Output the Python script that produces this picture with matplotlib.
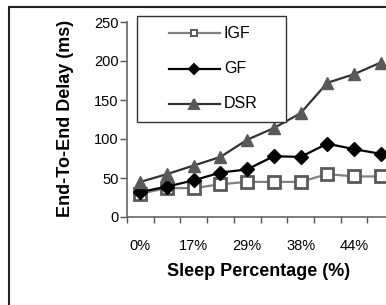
import numpy as np
import matplotlib
matplotlib.use('Agg')
import matplotlib.pyplot as plt
from matplotlib.lines import Line2D
from matplotlib.patches import Rectangle

# data
x_labels = ['0%', '', '17%', '', '29%', '', '38%', '', '44%', '']
igf = [30, 37, 37, 42, 45, 45, 45, 55, 52, 52]
gf = [32, 39, 47, 57, 61, 78, 77, 94, 87, 81]
dsr = [45, 55, 66, 77, 99, 114, 133, 172, 183, 198]
names = ['IGF', 'GF', 'DSR']

plt.rcParams['font.family'] = ['Liberation Sans', 'DejaVu Sans']

W, H = 386, 305
fig = plt.figure(figsize=(W / 100, H / 100), dpi=100)

def fx(px):
    return px / W

def fy(py):
    return 1 - py / H

# outer chart frame (cut off at right/bottom)
fig.patches.append(Rectangle((fx(9), -0.1), 1.2, fy(7) + 0.1,
                             transform=fig.transFigure, fill=False,
                             edgecolor='#222222', linewidth=1.5))

n_slots = 11
x0, x_step = 127, 26.7
ax = fig.add_axes([fx(x0), 88 / H, n_slots * x_step / W, 195 / H])
ax.set_facecolor('none')

styles = [
    dict(color='#808080', lw=1.6, marker='s', mfc='white', mec='#595959'),
    dict(color='black', lw=1.6, marker='D', mfc='black', mec='black'),
    dict(color='#333333', lw=1.6, marker='^', mfc='#595959', mec='#595959'),
]

x = np.arange(len(igf))
ax.plot(x, igf, ms=8.5, mew=2, zorder=3, **styles[0])
ax.plot(x, gf, ms=7, zorder=4, **styles[1])
ax.plot(x, dsr, ms=8, zorder=5, **styles[2])

ax.set_xlim(-0.5, n_slots - 0.5)
ax.set_ylim(0, 250)
ax.set_yticks(np.arange(0, 251, 50))
ax.set_xticks(x)
ax.set_xticklabels(x_labels)
ax.set_xticks(np.arange(-0.5, n_slots), minor=True)
ax.tick_params(axis='x', which='major', length=0, pad=16, labelsize=10.5)
ax.tick_params(axis='x', which='minor', length=4, width=1, color='#555555')
ax.tick_params(axis='y', length=5, width=1, color='#555555', pad=1, labelsize=10.5)

for s in ['top', 'right']:
    ax.spines[s].set_visible(False)
for s in ['left', 'bottom']:
    ax.spines[s].set_color('#666666')
    ax.spines[s].set_linewidth(1.2)

fig.text(fx(259), fy(272), 'Sleep Percentage (%)', ha='center', va='center',
         fontsize=13, fontweight='bold')
fig.text(fx(65), fy(118), 'End-To-End Delay (ms)', ha='center', va='center',
         rotation=90, fontsize=13, fontweight='bold')

# legend box drawn by hand to get Excel's wide layout
fig.patches.append(Rectangle((fx(137), fy(122)), fx(286) - fx(137), fy(16) - fy(122),
                             transform=fig.transFigure, facecolor='white',
                             edgecolor='#333333', linewidth=1.0, zorder=6))
leg_ms = [5, 5, 6.5]
for i, (name, st) in enumerate(zip(names, styles)):
    yy = fy(33 + i * 35.5)
    fig.add_artist(Line2D([fx(169), fx(220)], [yy, yy], transform=fig.transFigure,
                          color=st['color'], lw=st['lw'], zorder=7))
    fig.add_artist(Line2D([fx(194)], [yy], transform=fig.transFigure, ls='none',
                          marker=st['marker'], ms=leg_ms[i], mfc=st['mfc'],
                          mec=st['mec'], mew=1.4, zorder=8))
    fig.text(fx(224), yy, name, ha='left', va='center', fontsize=11.5, zorder=9)

fig.savefig('out.png', dpi=100)
